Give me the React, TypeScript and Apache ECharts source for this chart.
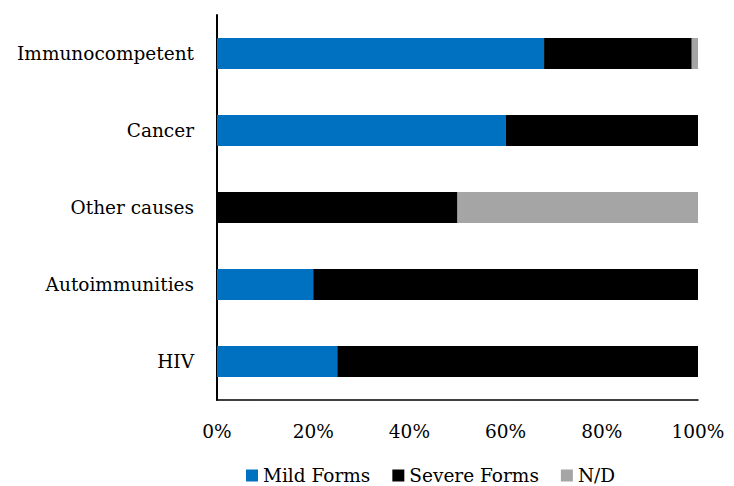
import React, { useEffect, useRef } from "react";
import * as echarts from "echarts";

const categories = ["HIV", "Autoimmunities", "Other causes", "Cancer", "Immunocompetent"];
const mildForms = [25, 20, 0, 60, 68];
const severeForms = [75, 80, 50, 40, 30.7];
const notDetermined = [0, 0, 50, 0, 1.3];
const seriesNames = ["Mild Forms", "Severe Forms", "N/D"];
const xTicks = [0, 20, 40, 60, 80, 100];

const FONT = "DejaVu Serif";

export default function App() {
  const ref = useRef<HTMLDivElement>(null);
  useEffect(() => {
    const chart = echarts.init(ref.current!, null, { renderer: "svg" });
    const colors = ["#0070C0", "#000000", "#A5A5A5"];
    const datas = [mildForms, severeForms, notDetermined];
    chart.setOption({
      animation: false,
      textStyle: { fontFamily: FONT },
      grid: { left: 217, right: 36, top: 15, bottom: 86, containLabel: false },
      legend: {
        top: 466,
        left: 246,
        padding: 0,
        itemWidth: 12,
        itemHeight: 12,
        itemGap: 22,
        icon: "rect",
        textStyle: { fontFamily: FONT, fontSize: 18.5, color: "#000" },
        data: seriesNames,
      },
      xAxis: {
        type: "value",
        min: xTicks[0],
        max: xTicks[xTicks.length - 1],
        interval: 20,
        axisLine: { show: true, lineStyle: { color: "#000", width: 1.5 } },
        axisTick: { show: false },
        splitLine: { show: false },
        axisLabel: {
          formatter: "{value}%",
          fontFamily: FONT,
          fontSize: 18.5,
          color: "#000",
          margin: 22,
        },
      },
      yAxis: {
        type: "category",
        data: categories,
        axisLine: { show: true, lineStyle: { color: "#000", width: 2 } },
        axisTick: { show: false },
        axisLabel: { fontFamily: FONT, fontSize: 18.5, color: "#000", margin: 23 },
      },
      series: seriesNames.map((name, i) => ({
        name,
        type: "bar",
        stack: "total",
        data: datas[i],
        barWidth: 31,
        itemStyle: { color: colors[i] },
      })),
    });
    return () => chart.dispose();
  }, []);
  return <div ref={ref} style={{ width: 734, height: 486, position: "absolute", left: 0, top: 0 }} />;
}
